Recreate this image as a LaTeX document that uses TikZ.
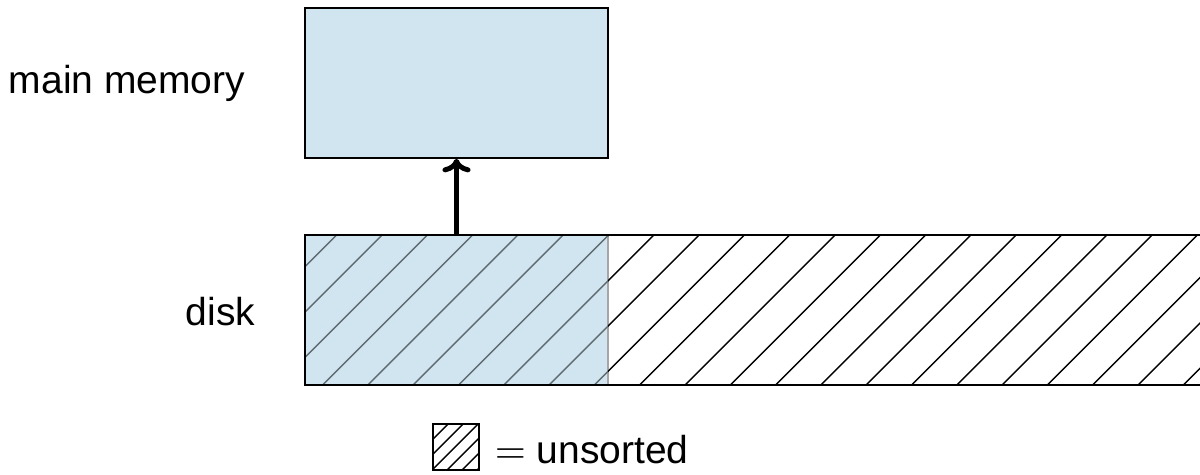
\documentclass[tikz,border=0pt]{standalone}
\usepackage{fontspec}
\setmainfont{Liberation Sans}
\usetikzlibrary{fit,arrows.meta}
\definecolor{memblue}{RGB}{209,229,240}
\definecolor{hatchgray}{RGB}{95,105,112}
\tikzset{
  lbl/.style={inner sep=0pt, font=\fontsize{9.75}{11}\selectfont},
  boxline/.style={draw=black, line width=0.4pt},
  hatch/.style={line width=0.35pt, black},
  readarrow/.style={-{To[length=3.4pt,width=7pt]}, line width=1.25pt},
}
\begin{document}
\begin{tikzpicture}[x=0.25pt,y=-0.25pt]
\useasboundingbox (0,0) rectangle (1200,474);
% main memory box
\coordinate (m1) at (305,8);
\coordinate (m2) at (608,158);
\node[fit=(m1)(m2), inner sep=0pt, boxline, fill=memblue] (mem) {};
% disk
\coordinate (d1) at (305,235);
\coordinate (d2) at (1203,385);
\coordinate (b2) at (608,385);
\coordinate (w1) at (608,235);
\node[fit=(d1)(b2), inner sep=0pt, fill=memblue, draw=black!35, line width=0.4pt] (diskblue) {};
\begin{scope}
  \clip (d1) rectangle (b2);
  \foreach \k in {-1,...,23}{
    \pgfmathsetmacro{\xt}{336.7+45.3*\k}
    \draw[hatch, hatchgray] (\xt,235) -- (\xt-150,385);
  }
\end{scope}
\begin{scope}
  \clip (w1) rectangle (d2);
  \foreach \k in {-1,...,23}{
    \pgfmathsetmacro{\xt}{336.7+45.3*\k}
    \draw[hatch] (\xt,235) -- (\xt-150,385);
  }
\end{scope}
\node[fit=(d1)(d2), inner sep=0pt, boxline] (disk) {};
% arrow
\draw[readarrow] (diskblue.north) -- (mem.south);
% labels
\node[lbl, anchor=east] (lmem) at (246,83) {main memory};
\node[lbl, anchor=east] (ldisk) at (256,312) {disk};
% legend
\coordinate (l1) at (433,424);
\coordinate (l2) at (479,470);
\begin{scope}
  \clip (l1) rectangle (l2);
  \foreach \k in {-1,...,6}{
    \pgfmathsetmacro{\xt}{448+15*\k}
    \draw[hatch] (\xt,424) -- (\xt-46,470);
  }
\end{scope}
\node[fit=(l1)(l2), inner sep=0pt, boxline] (legbox) {};
\node[lbl, anchor=base west] (legtxt) at (494,463) {$=$ unsorted};
\end{tikzpicture}
\end{document}
